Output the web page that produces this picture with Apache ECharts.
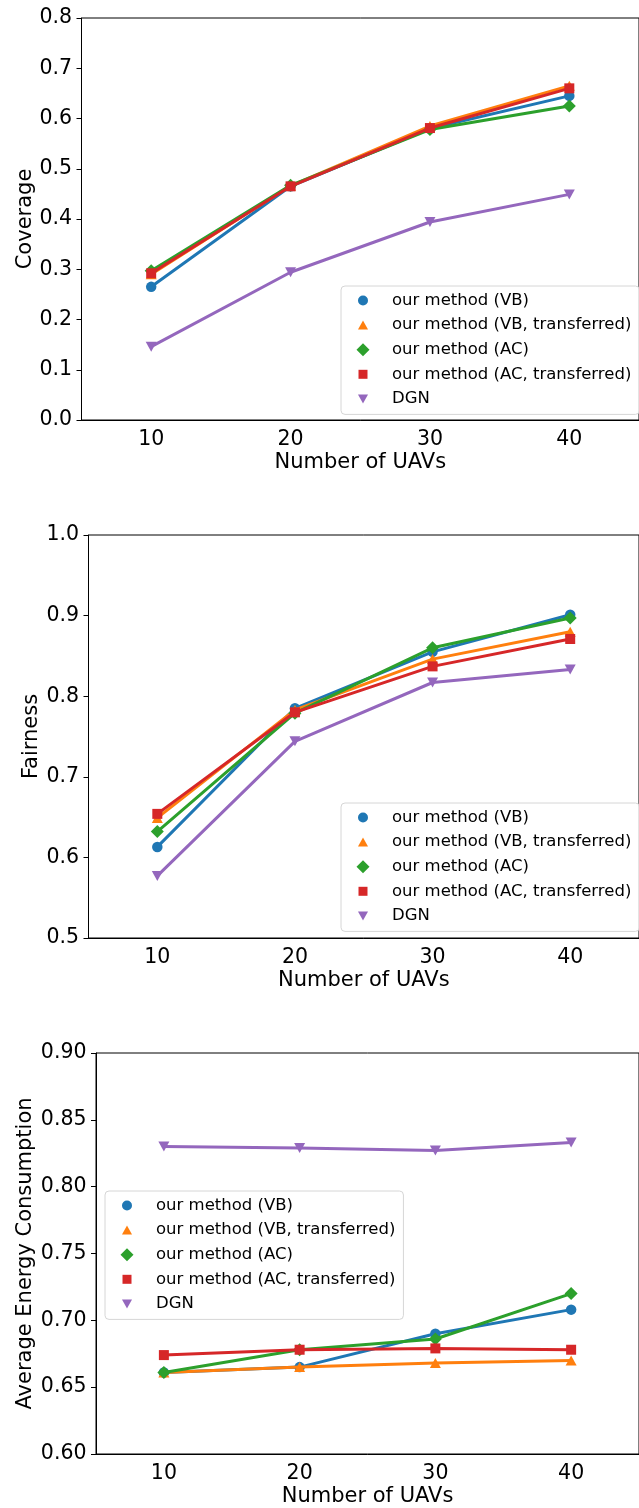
<!DOCTYPE html>
<html><head><meta charset="utf-8">
<script src="https://cdn.jsdelivr.net/npm/echarts@6/dist/echarts.min.js"></script>
<style>html,body{margin:0;padding:0;background:#fff}#c{width:639px;height:1508px}</style>
</head><body><div id="c"></div>
<script>
const categories = ['10', '20', '30', '40'];
const seriesNames = ['our method (VB)', 'our method (VB, transferred)', 'our method (AC)', 'our method (AC, transferred)', 'DGN'];
const colors = ['#1f77b4', '#ff7f0e', '#2ca02c', '#d62728', '#9467bd'];

// Coverage
const coverageVB = [0.265, 0.465, 0.580, 0.645];
const coverageVBT = [0.290, 0.466, 0.585, 0.665];
const coverageAC = [0.297, 0.467, 0.578, 0.625];
const coverageACT = [0.292, 0.465, 0.581, 0.660];
const coverageDGN = [0.146, 0.294, 0.394, 0.449];

// Fairness
const fairnessVB = [0.613, 0.785, 0.855, 0.901];
const fairnessVBT = [0.649, 0.783, 0.846, 0.880];
const fairnessAC = [0.632, 0.779, 0.860, 0.897];
const fairnessACT = [0.654, 0.780, 0.837, 0.871];
const fairnessDGN = [0.577, 0.744, 0.817, 0.833];

// Average energy consumption
const energyVB = [0.661, 0.665, 0.690, 0.708];
const energyVBT = [0.661, 0.665, 0.668, 0.670];
const energyAC = [0.661, 0.678, 0.686, 0.720];
const energyACT = [0.674, 0.678, 0.679, 0.678];
const energyDGN = [0.830, 0.829, 0.827, 0.833];

const yTitles = ['Coverage', 'Fairness', 'Average Energy Consumption'];
const xTitle = 'Number of UAVs';

const symbols = ['circle', 'triangle', 'diamond', 'rect', 'path://M0,0L10,0L5,10Z'];
const symbolSizes = [10.5, [11, 10], [13, 13], [10, 10], [11, 10]];
// legend icons drawn inside a 14x14 frame so they keep their relative sizes
const legendIcons = [
  'path://M0,0M14,14M2,7A5,5,0,1,1,12,7A5,5,0,1,1,2,7Z',
  'path://M0,0M14,14M2,11.5L12,11.5L7,2.5Z',
  'path://M0,0M14,14M7,0.5L13.5,7L7,13.5L0.5,7Z',
  'path://M0,0M14,14M2.5,2.5L11.5,2.5L11.5,11.5L2.5,11.5Z',
  'path://M0,0M14,14M2,2.5L12,2.5L7,11.5Z'
];

const FONT = 'DejaVu Sans';
const grids = [
  {left: 81.5, top: 18, width: 568, height: 402},
  {left: 88.5, top: 535, width: 560, height: 403},
  {left: 96, top: 1053, width: 553, height: 402}
];
const yRanges = [
  {min: 0, max: 0.8, interval: 0.1, dec: 1, gap: 45.5},
  {min: 0.5, max: 1.0, interval: 0.1, dec: 1, gap: 46},
  {min: 0.6, max: 0.9, interval: 0.05, dec: 2, gap: 59.5}
];
const legendPos = [
  {left: 341, top: 286},
  {left: 341, top: 803},
  {left: 105, top: 1191}
];
const datasets = [
  [coverageVB, coverageVBT, coverageAC, coverageACT, coverageDGN],
  [fairnessVB, fairnessVBT, fairnessAC, fairnessACT, fairnessDGN],
  [energyVB, energyVBT, energyAC, energyACT, energyDGN]
];

const option = {
  animation: false,
  backgroundColor: '#fff',
  textStyle: {fontFamily: FONT, color: '#000'},
  grid: grids.map(g => Object.assign({show: true, borderColor: '#000', borderWidth: 1, backgroundColor: 'transparent'}, g)),
  xAxis: grids.map((g, i) => ({
    type: 'category', gridIndex: i, data: categories, boundaryGap: true,
    name: xTitle, nameLocation: 'middle', nameGap: 32, nameMoveOverlap: false,
    nameTextStyle: {fontFamily: FONT, fontSize: 21, color: '#000'},
    axisLine: {lineStyle: {color: '#000', width: 1}},
    axisTick: {alignWithLabel: true, length: 5, lineStyle: {color: '#000'}},
    axisLabel: {fontFamily: FONT, fontSize: 20.5, color: '#000', margin: 9},
    splitLine: {show: false}
  })),
  yAxis: yRanges.map((r, i) => ({
    type: 'value', gridIndex: i, min: r.min, max: r.max, interval: r.interval,
    name: yTitles[i], nameLocation: 'middle', nameGap: r.gap, nameMoveOverlap: false,
    nameTextStyle: {fontFamily: FONT, fontSize: 21, color: '#000'},
    axisLine: {show: true, lineStyle: {color: '#000', width: 1}},
    axisTick: {show: true, length: 5, lineStyle: {color: '#000'}},
    axisLabel: {fontFamily: FONT, fontSize: 20.5, color: '#000', margin: 9.5,
      formatter: v => v.toFixed(r.dec)},
    splitLine: {show: false}
  })),
  legend: legendPos.map(p => ({
    orient: 'vertical', left: p.left, top: p.top,
    data: seriesNames.map((n, k) => ({name: n, icon: legendIcons[k]})),
    itemWidth: 14, itemHeight: 14, itemGap: 7.6,
    padding: [6, 8, 7, 15],
    backgroundColor: 'rgba(255,255,255,0.8)',
    borderColor: '#d6d6d6', borderWidth: 1, borderRadius: 4,
    selectedMode: false,
    textStyle: {fontFamily: FONT, fontSize: 16.5, color: '#000', padding: [0, 0, 0, 17]}
  })),
  series: []
};

datasets.forEach((set, gi) => {
  set.forEach((vals, k) => {
    option.series.push({
      type: 'line', name: seriesNames[k], xAxisIndex: gi, yAxisIndex: gi,
      data: vals, symbol: symbols[k], symbolSize: symbolSizes[k], showAllSymbol: true,
      lineStyle: {width: 3, color: colors[k]},
      itemStyle: {color: colors[k]},
      color: colors[k], z: 2 + k
    });
  });
});

const chart = echarts.init(document.getElementById('c'), null, {renderer: 'canvas'});
chart.setOption(option);
</script></body></html>
